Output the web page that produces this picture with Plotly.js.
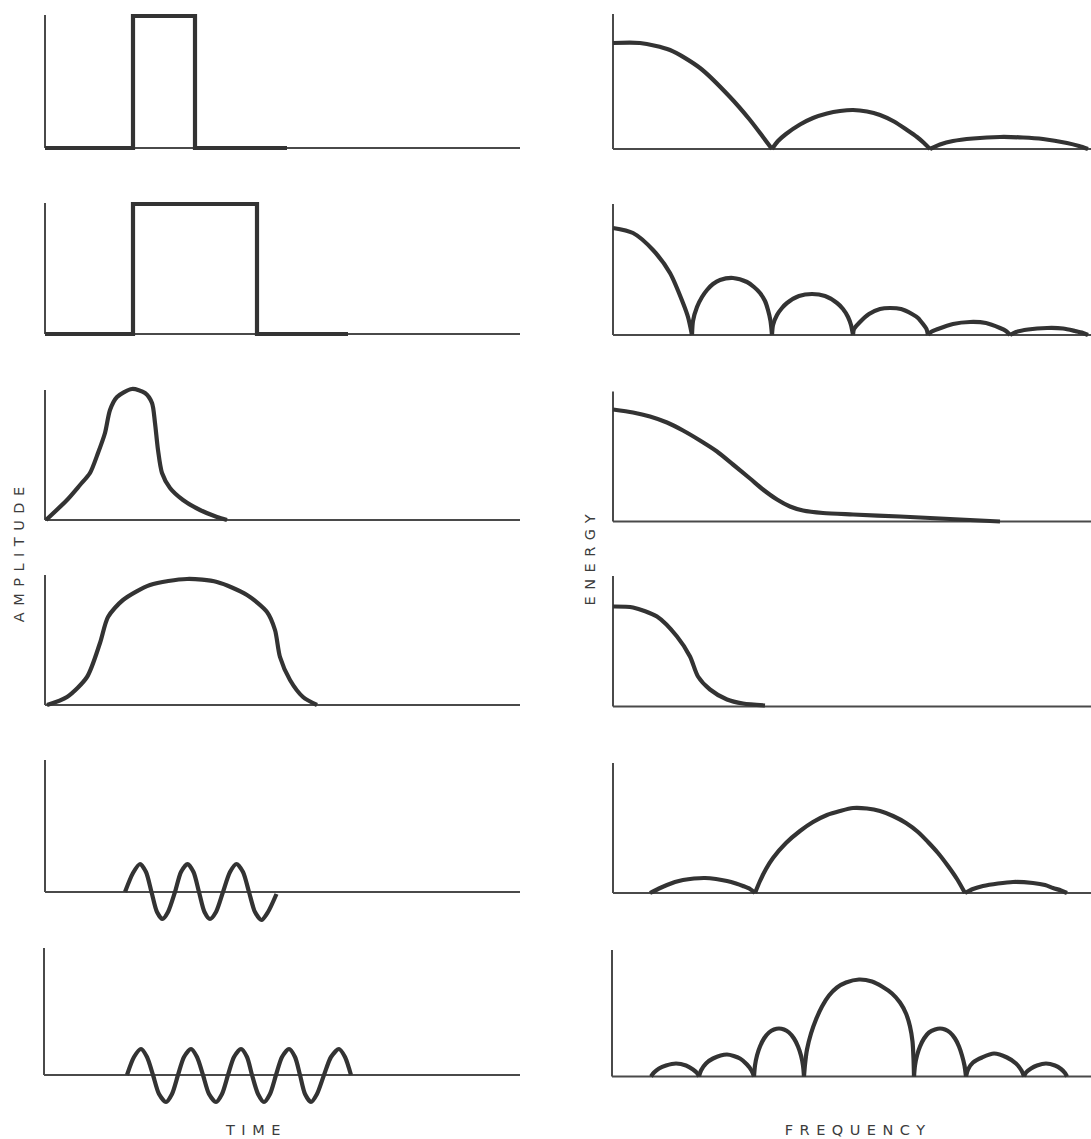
<!DOCTYPE html>
<html><head><meta charset="utf-8">
<script src="https://cdn.plot.ly/plotly-3.0.1.min.js"></script>
<style>html,body{margin:0;padding:0;background:#fff}</style>
</head><body><div id="chart" style="width:1091px;height:1139px"></div>
<script>
// ---------- DATA (time offsets / amplitudes, frequency offsets / energies) ----------
// Row 1 left: narrow rectangular pulse
const narrowPulseT = [0, 88, 88, 150, 150, 242];
const narrowPulseA = [0, 0, 132, 132, 0, 0];
// Row 2 left: wide rectangular pulse
const widePulseT = [0, 88, 88, 212, 212, 303];
const widePulseA = [0, 0, 130, 130, 0, 0];
// Row 3 left: peaked smooth pulse
const peakPulseT = [1, 22, 35, 45, 53, 60, 65, 72, 87, 100, 107, 110, 113, 117, 125, 138, 155, 172, 182];
const peakPulseA = [0, 20, 35, 47, 67, 87, 110, 123, 131, 127, 117, 97, 70, 47, 32, 20, 10, 3, 0];
// Row 4 left: broad smooth pulse
const broadPulseT = [2, 22, 42, 55, 63, 78, 105, 142, 172, 202, 222, 230, 235, 245, 258, 272];
const broadPulseA = [0, 8, 28, 62, 88, 105, 120, 126, 123, 110, 93, 75, 48, 25, 8, 0];
// Row 5 left: short tone burst
const shortBurstT = [80, 88, 95, 101, 106.5, 112, 117.5, 123, 130, 136, 142.5, 148.5, 154, 159.5, 165, 171, 178, 185, 191.5, 198, 204, 210, 216.5, 223, 231.5];
const shortBurstA = [0, 19, 28, 20, 0, -20, -27, -20, 0, 20, 28, 20, 0, -20, -27, -20, 0, 20, 28, 20, 0, -20, -28, -20, -2];
// Row 6 left: long tone burst
const longBurstT = [83, 90, 97, 103, 109, 115, 122, 128, 134, 140, 147, 153, 159, 165, 172, 178, 184, 190, 197, 203, 208, 214, 220, 226, 232, 238, 245, 251, 256, 261, 267, 273, 280, 287, 295, 301, 307];
const longBurstA = [0, 18, 26, 18, 0, -19, -27, -19, 0, 18, 26, 18, 0, -19, -27, -19, 0, 18, 26, 18, 0, -19, -27, -19, 0, 18, 26, 18, 0, -19, -27, -19, 0, 18, 26, 18, 0];

// Row 1 right: spectrum of narrow pulse (lobes separated by null)
const narrowSpecF = [0, 27, 57, 87, 117, 137, 150, 159, null, 159, 165, 173, 187, 200, 214, 227, 240, 254, 267, 281, 294, 304, 311, 317, null, 317, 327, 340, 360, 387, 410, 430, 454, 466, 475];
const narrowSpecE = [106, 106, 99, 81, 52, 29, 12, 0, null, 0, 8, 15, 24.5, 31, 35.5, 38, 39, 37.5, 34, 27.5, 19, 12, 6, 0, null, 0, 4.5, 8, 10.5, 12, 11.5, 10, 6, 3, 0];
// Row 2 right: spectrum of wide pulse
const wideSpecF = [0, 20, 40, 57, 70, 75, 79, null, 79, 80, 84, 89, 94, 100, 107, 120, 134, 141, 147, 152, 155, 157.5, 159, null, 159, 160, 164, 169, 174, 186, 199, 212, 224, 230, 235, 238, 240, null, 240, 241, 246, 256, 267, 277, 288, 299, 305, 310, 313.5, 315, null, 315, 318, 325, 340, 357, 373, 387, 393, 397, null, 397, 403, 415, 434, 450, 462, 470, 475];
const wideSpecE = [107, 102, 85, 62, 32, 18, 0, null, 0, 14, 28, 38, 45, 51, 55, 57, 53, 48, 42, 34, 25, 14, 0, null, 0, 10, 20, 27, 32, 39, 41, 39, 32, 26, 18, 10, 0, null, 0, 6, 12, 21, 26, 27, 26, 21, 17, 11, 6, 0, null, 0, 3, 6, 11, 13, 12, 7, 4, 0, null, 0, 3, 5.5, 7, 6.5, 4, 2, 0];
// Row 3 right: spectrum of peaked pulse
const peakSpecF = [0, 20, 37, 54, 70, 87, 104, 120, 137, 150, 164, 177, 190, 210, 240, 287, 337, 387];
const peakSpecE = [112, 109, 105, 99, 91, 81, 70, 57, 43, 32, 22, 15, 11, 8.5, 7, 5, 2.5, 0];
// Row 4 right: spectrum of broad pulse
const broadSpecF = [0, 20, 44, 64, 77, 85, 97, 114, 130, 152];
const broadSpecE = [100, 99, 90, 70, 50, 30, 17, 7, 3, 1];
// Row 5 right: spectrum of short burst
const shortSpecF = [37, 46, 54, 62, 70, 81, 92, 103, 114, 123, 130, 137, 142, null, 142, 147, 153, 160, 173, 187, 200, 214, 227, 240, 254, 267, 280, 293, 305, 315, 325, 335, 344, 352, null, 352, 360, 370, 385, 400, 420, 432, 440, 448, 454];
const shortSpecE = [0, 4.5, 8, 11, 13, 14.5, 15, 14, 12, 9.5, 7, 4, 0, null, 0, 12, 24, 35, 50, 62, 71, 78, 82, 85, 84.5, 82, 77, 70, 61, 51, 40, 27, 14, 0, null, 0, 4, 7, 9.5, 11, 10, 8, 5, 2.5, 0];
// Row 6 right: spectrum of long burst
const longSpecF = [39, 42, 47, 54, 64, 74, 81, 85, 87, null, 87, 89, 94, 101, 115, 128, 135, 139.5, 142, null, 142, 143, 145, 148, 152, 157, 162, 167, 172, 177, 182, 186, 189, 191, 192, null, 192, 193, 195, 199, 204, 210, 217, 225, 234, 247, 260, 270, 280, 288, 294, 298, 300.5, 301.5, 302, null, 302, 303, 305, 308, 312, 317, 323, 328, 333, 338, 343, 347, 350, 352.5, 354, null, 354, 356, 361, 370, 382, 395, 404, 409.5, 412, null, 412, 414, 419, 425, 434, 443, 449, 453, 455];
const longSpecE = [0, 4, 8, 11, 13, 11, 7, 3.5, 0, null, 0, 6, 13, 18, 22, 18, 12, 6, 0, null, 0, 11, 21, 30, 38, 44, 47, 48, 47, 44, 38, 30, 21, 11, 0, null, 0, 12, 27, 43, 57, 70, 81, 89, 94, 97, 95, 90, 83, 74, 63, 50, 35, 18, 0, null, 0, 11, 21, 30, 38, 44, 47, 48, 47, 44, 38, 30, 21, 11, 0, null, 0, 7, 14, 19, 23, 19, 13, 6, 0, null, 0, 4, 8, 11, 13, 11, 7.5, 3.5, 0];

const axisLabels = ['AMPLITUDE', 'ENERGY', 'TIME', 'FREQUENCY'];

// ---------- LAYOUT GEOMETRY ----------
const W = 1091, H = 1139;
const LINE = '#333333', AXIS = '#4a4a4a';
const panels = [
  {x0: 45, x1: 520, base: 148, top: 15, below: 8, xs: narrowPulseT, ys: narrowPulseA, shape: 'linear'},
  {x0: 45, x1: 520, base: 334, top: 203, below: 8, xs: widePulseT, ys: widePulseA, shape: 'linear'},
  {x0: 45, x1: 520, base: 520, top: 390, below: 8, xs: peakPulseT, ys: peakPulseA, shape: 'spline'},
  {x0: 45, x1: 520, base: 705, top: 575, below: 8, xs: broadPulseT, ys: broadPulseA, shape: 'spline'},
  {x0: 45, x1: 520, base: 892, top: 760, below: 34, xs: shortBurstT, ys: shortBurstA, shape: 'spline'},
  {x0: 44, x1: 520, base: 1075, top: 948, below: 34, xs: longBurstT, ys: longBurstA, shape: 'spline'},
  {x0: 613, x1: 1091, base: 149, top: 14, below: 8, xs: narrowSpecF, ys: narrowSpecE, shape: 'spline'},
  {x0: 613, x1: 1091, base: 335, top: 204, below: 8, xs: wideSpecF, ys: wideSpecE, shape: 'spline'},
  {x0: 613, x1: 1091, base: 521.5, top: 391.5, below: 8, xs: peakSpecF, ys: peakSpecE, shape: 'spline'},
  {x0: 613, x1: 1091, base: 706.5, top: 576, below: 8, xs: broadSpecF, ys: broadSpecE, shape: 'spline'},
  {x0: 613, x1: 1091, base: 893, top: 763, below: 8, xs: shortSpecF, ys: shortSpecE, shape: 'spline'},
  {x0: 612, x1: 1091, base: 1076.5, top: 950, below: 8, xs: longSpecF, ys: longSpecE, shape: 'spline'}
];

const traces = [];
const layout = {
  width: W, height: H,
  margin: {l: 0, r: 0, t: 0, b: 0},
  paper_bgcolor: '#ffffff', plot_bgcolor: 'rgba(0,0,0,0)',
  showlegend: false,
  shapes: [], annotations: []
};
panels.forEach((p, i) => {
  const n = i + 1, sfx = n === 1 ? '' : String(n);
  const pad = 6, topPad = 8;
  layout['xaxis' + sfx] = {
    domain: [(p.x0 - pad) / W, p.x1 / W], range: [-pad, p.x1 - p.x0],
    anchor: 'y' + sfx, visible: false, fixedrange: true
  };
  layout['yaxis' + sfx] = {
    domain: [1 - (p.base + p.below) / H, 1 - (p.top - topPad) / H],
    range: [-p.below, p.base - p.top + topPad],
    anchor: 'x' + sfx, visible: false, fixedrange: true
  };
  traces.push({
    type: 'scatter', mode: 'lines', x: p.xs, y: p.ys,
    xaxis: 'x' + sfx, yaxis: 'y' + sfx, connectgaps: false,
    line: {color: LINE, width: 4.2, shape: p.shape, smoothing: 0.75},
    hoverinfo: 'skip'
  });
  layout.shapes.push({type: 'line', xref: 'x' + sfx, yref: 'y' + sfx, x0: 0, y0: 0, x1: p.x1 - p.x0, y1: 0,
    line: {color: AXIS, width: 2}, layer: 'below'});
  layout.shapes.push({type: 'line', xref: 'x' + sfx, yref: 'y' + sfx, x0: 0, y0: 0, x1: 0, y1: p.base - p.top,
    line: {color: AXIS, width: 2}, layer: 'below'});
});

const fnt = {family: 'DejaVu Sans, Verdana, sans-serif', size: 14.5, color: '#3c3c3c'};
layout.annotations = [
  {text: axisLabels[0], xref: 'paper', yref: 'paper', x: 19 / W, y: 1 - 552 / H, textangle: -90,
    showarrow: false, xanchor: 'center', yanchor: 'middle', font: fnt},
  {text: axisLabels[1], xref: 'paper', yref: 'paper', x: 590 / W, y: 1 - 557 / H, textangle: -90,
    showarrow: false, xanchor: 'center', yanchor: 'middle', font: fnt},
  {text: axisLabels[2], xref: 'paper', yref: 'paper', x: 256 / W, y: 1 - 1130 / H,
    showarrow: false, xanchor: 'center', yanchor: 'middle', font: fnt},
  {text: axisLabels[3], xref: 'paper', yref: 'paper', x: 858 / W, y: 1 - 1130 / H,
    showarrow: false, xanchor: 'center', yanchor: 'middle', font: fnt}
];

Plotly.newPlot('chart', traces, layout, {staticPlot: true, displayModeBar: false}).then(() => {
  document.querySelectorAll('.annotation-text').forEach(el => { el.style.letterSpacing = '6.5px'; });
});
</script></body></html>
